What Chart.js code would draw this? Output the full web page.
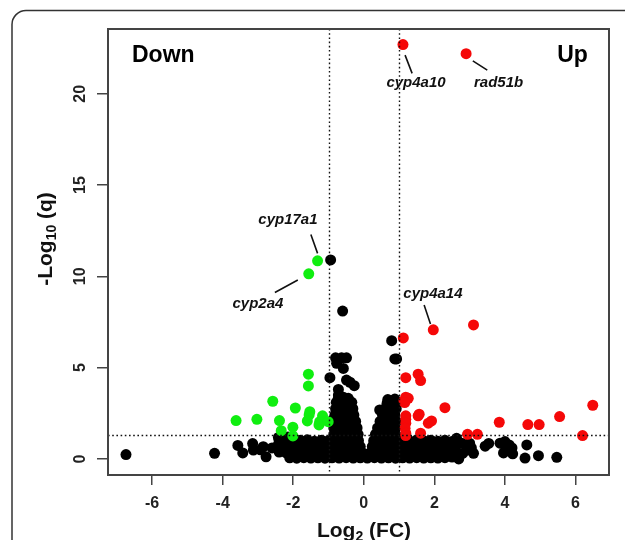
<!DOCTYPE html>
<html>
<head>
<meta charset="utf-8">
<script src="https://cdn.jsdelivr.net/npm/chart.js@4.4.1/dist/chart.umd.min.js"></script>
<style>
  html, body { margin: 0; padding: 0; background: #fff; }
  canvas { display: block; }
</style>
</head>
<body>
<canvas id="myChart" width="625" height="540"></canvas>
<script>
// log2 fold change / -log10 q
const upGenes = [
  [1.11, 22.7], [2.90, 22.2], [1.97, 7.07], [3.11, 7.34], [1.12, 6.63],
  [1.19, 4.45], [1.54, 4.64], [1.61, 4.29], [1.19, 3.38], [1.14, 3.19],
  [1.26, 3.32], [1.16, 3.09], [2.30, 2.81], [1.19, 2.36], [1.19, 2.17],
  [1.19, 1.96], [1.17, 1.68], [1.19, 1.41], [1.54, 2.36], [1.57, 2.45],
  [1.83, 1.96], [1.92, 2.08], [1.61, 1.41], [2.94, 1.35], [3.22, 1.35],
  [3.84, 2.01], [4.65, 1.88], [4.97, 1.88], [5.55, 2.32], [6.49, 2.94],
  [6.20, 1.28], [1.19, 1.28]
]

const downGenes = [
  [-1.31, 10.85], [-1.56, 10.14], [-3.62, 2.10], [-3.03, 2.17], [-2.58, 3.16],
  [-2.39, 2.10], [-2.34, 1.55], [-1.94, 2.79], [-2.01, 1.74], [-2.01, 1.26],
  [-1.57, 4.64], [-1.57, 4.00], [-1.53, 2.59], [-1.55, 2.41], [-1.60, 2.08],
  [-1.17, 2.36], [-1.25, 2.04], [-1.27, 1.86], [-1.01, 2.04]
]

const otherGenes = [
  // bottom band
  [-2.1, 0.06], [-1.9, 0.04], [-1.7, 0.07], [-1.5, 0.05], [-1.3, 0.06], [-1.1, 0.04],
  [-0.9, 0.06], [-0.7, 0.05], [-0.5, 0.07], [-0.3, 0.05], [-0.1, 0.06], [0.1, 0.05],
  [0.3, 0.07], [0.5, 0.05], [0.7, 0.06], [0.9, 0.04], [1.1, 0.06], [1.3, 0.05],
  [1.5, 0.07], [1.7, 0.05], [1.9, 0.06], [2.1, 0.05], [2.3, 0.07], [2.5, 0.1],
  [-2.4, 0.38], [-2.2, 0.33], [-2.0, 0.36], [-1.8, 0.4], [-1.6, 0.35], [-1.4, 0.37],
  [-1.2, 0.34], [-1.0, 0.38], [-0.8, 0.36], [-0.6, 0.35], [-0.4, 0.38], [-0.2, 0.36],
  [0.0, 0.3], [0.2, 0.35], [0.4, 0.37], [0.6, 0.34], [0.8, 0.38], [1.0, 0.36],
  [1.2, 0.35], [1.4, 0.38], [1.6, 0.34], [1.8, 0.37], [2.0, 0.35], [2.2, 0.38],
  [2.4, 0.34], [2.6, 0.36], [2.8, 0.3],
  [-2.45, 0.7], [-2.3, 0.64], [-2.1, 0.69], [-1.9, 0.66], [-1.7, 0.71], [-1.5, 0.67],
  [-1.3, 0.7], [-1.1, 0.65], [-0.9, 0.69], [-0.7, 0.68], [-0.5, 0.7], [-0.3, 0.66],
  [-0.1, 0.68], [0.24, 0.68], [0.4, 0.7], [0.6, 0.66], [0.8, 0.69], [1.0, 0.67],
  [1.2, 0.7], [1.4, 0.66], [1.6, 0.69], [1.8, 0.68], [2.0, 0.7], [2.2, 0.65],
  [2.4, 0.69], [2.6, 0.62],
  [-2.4, 0.98], [-2.2, 1.04], [-2.0, 0.96], [-1.8, 1.02], [-1.6, 1.05], [-1.4, 0.97],
  [-1.2, 1.03], [-1.0, 1.0], [-0.8, 1.04], [-0.6, 1.0], [-0.4, 1.02], [-0.15, 1.0],
  [0.28, 1.0], [0.5, 1.03], [0.7, 1.0], [0.9, 1.04], [1.1, 1.02], [1.3, 0.98],
  [1.5, 1.04], [1.7, 1.0], [1.9, 1.03], [2.1, 0.97], [2.3, 1.02], [2.5, 0.95],
  // left hump
  [-0.85, 1.35], [-0.67, 1.35], [-0.49, 1.35], [-0.31, 1.35], [-0.16, 1.35],
  [-0.85, 1.7], [-0.67, 1.7], [-0.49, 1.7], [-0.33, 1.7], [-0.19, 1.7],
  [-0.84, 2.05], [-0.66, 2.05], [-0.48, 2.05], [-0.33, 2.05], [-0.23, 2.05],
  [-0.82, 2.4], [-0.65, 2.4], [-0.48, 2.4], [-0.28, 2.4],
  [-0.8, 2.75], [-0.63, 2.75], [-0.47, 2.75], [-0.31, 2.75],
  [-0.78, 3.1], [-0.62, 3.1], [-0.47, 3.1], [-0.34, 3.1],
  [-0.72, 3.35], [-0.58, 3.38], [-0.44, 3.32],
  // right hump
  [0.33, 1.35], [0.52, 1.35], [0.72, 1.35], [0.9, 1.35],
  [0.39, 1.7], [0.58, 1.7], [0.76, 1.7], [0.9, 1.7],
  [0.46, 2.05], [0.64, 2.05], [0.8, 2.05], [0.92, 2.05],
  [0.53, 2.4], [0.7, 2.4], [0.88, 2.4], [0.45, 2.68],
  [0.6, 2.75], [0.76, 2.75], [0.92, 2.75],
  [0.66, 3.05], [0.8, 3.08], [0.93, 3.1],
  [0.68, 3.25], [0.88, 3.28],
  // above the left hump
  [-0.72, 3.5], [-0.72, 3.81], [-0.27, 4.01], [-0.39, 4.2], [-0.49, 4.32],
  [-0.96, 4.45], [-0.58, 4.96], [-0.77, 5.24], [-0.80, 5.54], [-0.63, 5.54],
  [-0.49, 5.54],
  // isolated high points
  [-0.94, 10.9], [-0.60, 8.1], [0.79, 6.48], [0.88, 5.48], [0.93, 5.48],
  // left tail
  [-6.74, 0.24], [-4.23, 0.31], [-3.57, 0.74], [-3.43, 0.33], [-3.15, 0.84],
  [-3.13, 0.49], [-2.93, 0.5], [-2.85, 0.67], [-2.77, 0.12], [-2.6, 0.6],
  [-2.42, 1.18], [-2.15, 1.2],
  // right tail
  [2.69, 0.0], [2.63, 1.13], [2.78, 0.86], [2.92, 0.49], [3.0, 0.86], [3.05, 0.6],
  [3.11, 0.31], [3.44, 0.7], [3.54, 0.85], [3.86, 0.86], [4.0, 0.95], [4.02, 0.68],
  [3.96, 0.33], [4.12, 0.77], [4.2, 0.6], [4.22, 0.28], [4.62, 0.77], [4.57, 0.05],
  [4.95, 0.18], [5.47, 0.09]
]

const xTicks = [-6, -4, -2, 0, 2, 4, 6]
const yTicks = [0, 5, 10, 15, 20]
const fcCut = [-1, 1]
const qCut = 1.3

const geneNames = ["cyp4a10", "rad51b", "cyp17a1", "cyp2a4", "cyp4a14"]
const geneLabelAt = [[1.48, 20.37], [3.82, 20.37], [-2.15, 12.87], [-3.0, 8.27], [1.96, 8.81]]
const geneLeaders = [
  [[1.17, 22.12], [1.37, 21.12]],
  [[3.09, 21.8], [3.50, 21.3]],
  [[-1.50, 12.29], [-1.31, 11.26]],
  [[-2.52, 9.12], [-1.87, 9.80]],
  [[1.71, 8.43], [1.89, 7.39]]
]

const FONT = "'Liberation Sans', Arial, Helvetica, sans-serif"
const toXY = pts => pts.map(p => ({ x: p[0], y: p[1] }))

function richText(ctx, parts, cx, cy) {
  // parts: [text, size, dy]
  let w = 0
  parts.forEach(p => { ctx.font = 'bold ' + p[1] + 'px ' + FONT; w += ctx.measureText(p[0]).width })
  let x = cx - w / 2
  parts.forEach(p => {
    ctx.font = 'bold ' + p[1] + 'px ' + FONT
    ctx.fillText(p[0], x, cy + p[2])
    x += ctx.measureText(p[0]).width
  })
}

const volcanoDecor = {
  id: 'volcanoDecor',
  beforeDraw(chart) {
    const ctx = chart.ctx
    ctx.save()
    ctx.fillStyle = '#fff'
    ctx.fillRect(0, 0, chart.width, chart.height)
    // rounded frame of the figure panel
    const x0 = 12, y0 = 10.5, x1 = 700, y1 = 620, r = 14
    ctx.strokeStyle = '#333'
    ctx.lineWidth = 1.5
    ctx.beginPath()
    ctx.moveTo(x0 + r, y0)
    ctx.lineTo(x1, y0)
    ctx.moveTo(x0, y1)
    ctx.lineTo(x0, y0 + r)
    ctx.arcTo(x0, y0, x0 + r, y0, r)
    ctx.stroke()
    ctx.restore()
  },
  afterDatasetsDraw(chart) {
    const ctx = chart.ctx
    const a = chart.chartArea
    const xs = chart.scales.x, ys = chart.scales.y
    ctx.save()

    // cut-off lines
    ctx.strokeStyle = '#111'
    ctx.lineWidth = 1.4
    ctx.setLineDash([1.6, 2.6])
    ctx.beginPath()
    fcCut.forEach(v => {
      const px = Math.round(xs.getPixelForValue(v)) + 0.5
      ctx.moveTo(px, a.top); ctx.lineTo(px, a.bottom)
    })
    const qy = Math.round(ys.getPixelForValue(qCut)) + 0.5
    ctx.moveTo(a.left, qy); ctx.lineTo(a.right, qy)
    ctx.stroke()
    ctx.setLineDash([])

    // plot box
    ctx.strokeStyle = '#444'
    ctx.lineWidth = 2
    ctx.strokeRect(a.left, a.top, a.right - a.left, a.bottom - a.top)

    // gene labels
    ctx.fillStyle = '#111'
    ctx.strokeStyle = '#111'
    ctx.lineWidth = 1.6
    ctx.beginPath()
    geneLeaders.forEach(l => {
      ctx.moveTo(xs.getPixelForValue(l[0][0]), ys.getPixelForValue(l[0][1]))
      ctx.lineTo(xs.getPixelForValue(l[1][0]), ys.getPixelForValue(l[1][1]))
    })
    ctx.stroke()
    ctx.font = 'italic bold 15px ' + FONT
    ctx.textAlign = 'center'
    ctx.textBaseline = 'alphabetic'
    geneNames.forEach((g, i) => {
      ctx.fillText(g, xs.getPixelForValue(geneLabelAt[i][0]), ys.getPixelForValue(geneLabelAt[i][1]))
    })

    // Down / Up
    ctx.font = 'bold 23px ' + FONT
    ctx.fillStyle = '#000'
    ctx.textAlign = 'left'
    ctx.fillText('Down', xs.getPixelForValue(-6.57), ys.getPixelForValue(21.74))
    ctx.textAlign = 'right'
    ctx.fillText('Up', xs.getPixelForValue(6.35), ys.getPixelForValue(21.74))

    // y tick labels, rotated like base R
    ctx.fillStyle = '#222'
    ctx.font = 'bold 16px ' + FONT
    ctx.textAlign = 'center'
    ctx.textBaseline = 'middle'
    yTicks.forEach(v => {
      ctx.save()
      ctx.translate(81, ys.getPixelForValue(v))
      ctx.rotate(-Math.PI / 2)
      ctx.fillText(String(v), 0, 0)
      ctx.restore()
    })

    // axis titles
    ctx.fillStyle = '#111'
    ctx.textAlign = 'left'
    ctx.textBaseline = 'alphabetic'
    richText(ctx, [['Log', 21, 0], ['2', 14, 4], [' (FC)', 21, 0]], 364, 537)
    ctx.save()
    ctx.translate(52, 239)
    ctx.rotate(-Math.PI / 2)
    richText(ctx, [['-Log', 21, 0], ['10', 14, 4], [' (q)', 21, 0]], 0, 0)
    ctx.restore()

    ctx.restore()
  }
}

const data = {
  datasets: [
    {
      label: 'Up',
      data: toXY(upGenes),
      backgroundColor: 'rgb(245, 8, 8)',
      order: 1
    },
    {
      label: 'Down',
      data: toXY(downGenes),
      backgroundColor: 'rgb(16, 238, 16)',
      order: 2
    },
    {
      label: 'NS',
      data: toXY(otherGenes),
      backgroundColor: '#000',
      order: 3
    }
  ]
}

const config = {
  type: 'scatter',
  data: data,
  options: {
    responsive: false,
    animation: false,
    layout: { padding: { left: 0, right: 16, top: 29, bottom: 0 } },
    elements: { point: { radius: 5.5, borderWidth: 0, hoverRadius: 5.5 } },
    plugins: {
      legend: { display: false },
      tooltip: { enabled: false }
    },
    scales: {
      x: {
        type: 'linear',
        min: -7.25,
        max: 6.95,
        afterBuildTicks: s => { s.ticks = xTicks.map(v => ({ value: v })) },
        afterFit: s => { s.height = 65 },
        border: { display: false },
        grid: { drawOnChartArea: false, drawTicks: true, tickLength: 10, color: '#444', lineWidth: 1.5 },
        ticks: {
          padding: 9,
          color: '#222',
          font: { family: FONT, size: 16, weight: 'bold' },
          callback: v => String(v)
        }
      },
      y: {
        type: 'linear',
        min: -0.88,
        max: 23.55,
        afterBuildTicks: s => { s.ticks = yTicks.map(v => ({ value: v })) },
        afterFit: s => { s.width = 108 },
        border: { display: false },
        grid: { drawOnChartArea: false, drawTicks: true, tickLength: 11, color: '#444', lineWidth: 1.5 },
        ticks: { display: false }
      }
    }
  },
  plugins: [volcanoDecor]
}

const MyChart = new Chart(document.getElementById('myChart'), config)
</script>
</body>
</html>
